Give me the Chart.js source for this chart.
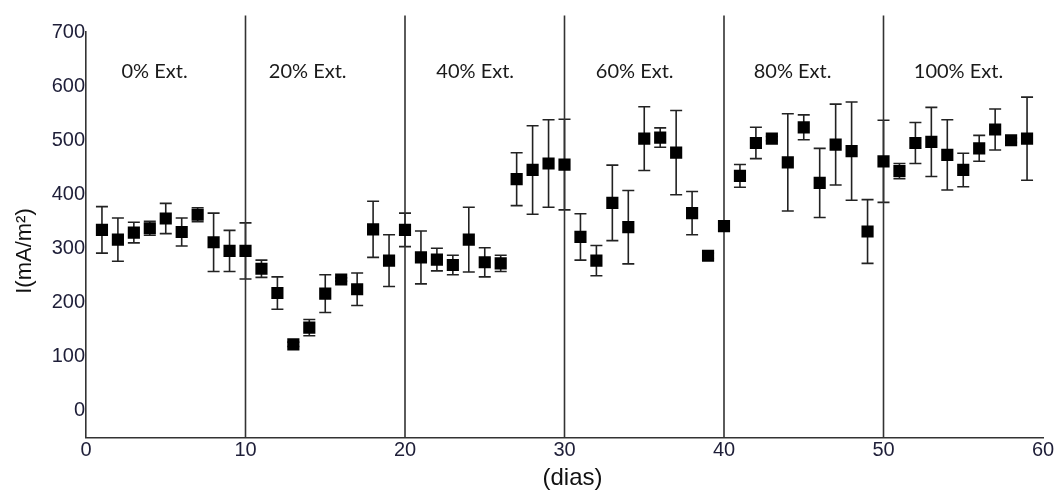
<!DOCTYPE html>
<html><head><meta charset="utf-8">
<script src="https://cdn.jsdelivr.net/npm/chart.js@4.4.1/dist/chart.umd.min.js"></script>
<style>html,body{margin:0;padding:0;background:#fff;}</style>
</head><body>
<canvas id="c" width="1057" height="490"></canvas>
<script>
// ---- data ----
const days = [1,2,3,4,5,6,7,8,9,10,11,12,13,14,15,16,17,18,19,20,21,22,23,24,25,26,27,28,29,30,31,32,33,34,35,36,37,38,39,40,41,42,43,44,45,46,47,48,49,50,51,52,53,54,55,56,57,58,59];
const current = [334,316,329,337,355,330,362,311,295,295,262,217,122,153,216,242,224,335,277,334,283,279,269,316,274,272,428,445,457,455,321,277,384,339,503,505,477,365,286,341,434,495,503,459,524,421,492,480,331,461,443,495,497,473,445,485,520,500,503];
const currentErr = [43,40,19,13,28,26,13,54,38,52,16,30,4,15,35,3,30,52,48,31,49,21,18,60,27,15,49,82,81,84,43,28,70,68,59,18,78,40,5,3,21,29,4,90,23,64,75,91,59,76,14,38,64,65,31,24,38,4,77];
const sectionBounds = [10,20,30,40,50];
const sectionLabels = ['0% Ext.','20% Ext.','40% Ext.','60% Ext.','80% Ext.','100% Ext.'];
const sectionLabelX = [4.3,13.9,24.4,34.4,44.3,54.7];
const sectionLabelY = 627;
const xTicks = [0,10,20,30,40,50,60];
const yTicks = [0,100,200,300,400,500,600,700];
const xTitle = '(dias)';
const yTitle = 'I(mA/m²)';
const yMin = -51, yMax = 700, sepTop = 731;

const FONT = 'Liberation Sans, Arial, sans-serif';

const errorBars = {
  id: 'errorBars',
  beforeDatasetsDraw(chart) {
    const {ctx, scales: {x, y}} = chart;
    ctx.save();
    ctx.strokeStyle = '#222';
    ctx.lineWidth = 1.6;
    days.forEach((d, i) => {
      const px = x.getPixelForValue(d);
      const top = y.getPixelForValue(current[i] + currentErr[i]);
      const bot = y.getPixelForValue(current[i] - currentErr[i]);
      ctx.beginPath();
      ctx.moveTo(px, top); ctx.lineTo(px, bot);
      ctx.moveTo(px - 6, top); ctx.lineTo(px + 6, top);
      ctx.moveTo(px - 6, bot); ctx.lineTo(px + 6, bot);
      ctx.stroke();
    });
    ctx.restore();
  }
};

const textLayer = {
  id: 'textLayer',
  afterDraw(chart) {
    const {ctx, scales: {x, y}, chartArea} = chart;
    ctx.save();
    ctx.fillStyle = '#1a1a1a';
    ctx.font = '20px Lato, sans-serif';
    ctx.textAlign = 'center';
    ctx.textBaseline = 'middle';
    sectionLabels.forEach((t, i) => {
      ctx.fillText(t, x.getPixelForValue(sectionLabelX[i]), y.getPixelForValue(sectionLabelY));
    });
    // axis titles
    ctx.fillStyle = '#111';
    ctx.font = '24px ' + FONT;
    ctx.fillText(xTitle, (chartArea.left + chartArea.right) / 2 + 8, 478);
    ctx.font = '22px ' + FONT;
    ctx.translate(25, 251);
    ctx.rotate(-Math.PI / 2);
    ctx.fillText(yTitle, 0, 0);
    ctx.restore();
  }
};

const datasets = [{
  type: 'scatter',
  data: days.map((d, i) => ({x: d, y: current[i]})),
  pointStyle: 'rect',
  pointRadius: 8.6,
  backgroundColor: '#000',
  borderColor: '#000',
  borderWidth: 0,
  order: 0
}];
sectionBounds.forEach(b => datasets.push({
  type: 'line',
  data: [{x: b, y: yMin}, {x: b, y: sepTop}],
  borderColor: '#333',
  borderWidth: 1.6,
  pointRadius: 0,
  clip: false,
  order: 1
}));

new Chart(document.getElementById('c'), {
  type: 'scatter',
  data: {datasets},
  plugins: [errorBars, textLayer],
  options: {
    responsive: false,
    devicePixelRatio: 1,
    animation: false,
    layout: {padding: {left: 10, right: 14, top: 32.3, bottom: 0}},
    plugins: {legend: {display: false}, tooltip: {enabled: false}},
    scales: {
      x: {
        type: 'linear', min: 0, max: 60,
        afterBuildTicks: s => { s.ticks = xTicks.map(v => ({value: v})); },
        afterFit: s => { s.height = 52.3; },
        grid: {display: false, drawTicks: false, tickLength: 0},
        border: {display: true, color: '#333', width: 1.6},
        ticks: {font: {family: FONT, size: 20}, color: '#1e1e38', padding: 1, maxRotation: 0, autoSkip: false},
        title: {display: false}
      },
      y: {
        type: 'linear', min: yMin, max: yMax,
        afterBuildTicks: s => { s.ticks = yTicks.map(v => ({value: v})); },
        afterFit: s => { s.width = 76; },
        grid: {display: false, drawTicks: false, tickLength: 0},
        border: {display: true, color: '#333', width: 1.6},
        ticks: {font: {family: FONT, size: 20}, color: '#1e1e38', padding: 1, autoSkip: false},
        title: {display: false}
      }
    }
  }
});
</script>
</body></html>
